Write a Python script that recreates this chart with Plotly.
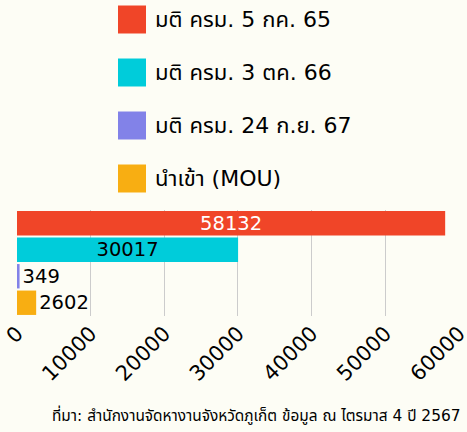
import plotly.graph_objects as go

series_names = ["มติ ครม. 5 กค. 65", "มติ ครม. 3 ตค. 66", "มติ ครม. 24 ก.ย. 67", "นำเข้า (MOU)"]
series_values = [58132, 30017, 349, 2602]
series_colors = ["#F04528", "#00CCDA", "#8282E8", "#F8AE12"]
text_colors = ["white", "black", "black", "black"]
tick_values = [0, 10000, 20000, 30000, 40000, 50000, 60000]
source_text = "ที่มา: สำนักงานจัดหางานจังหวัดภูเก็ต ข้อมูล ณ ไตรมาส 4 ปี 2567"

FONT = "DejaVu Sans, Noto Sans Thai, sans-serif"
BG = "#FDFDF5"

fig = go.Figure()
for name, val, col, tc in zip(series_names, series_values, series_colors, text_colors):
    fig.add_trace(go.Bar(
        x=[val], y=[""], name=name, orientation="h",
        marker=dict(color=col, line=dict(width=0)),
        text=[str(val)],
        textposition="inside" if val > 10000 else "outside",
        insidetextanchor="middle", constraintext="none",
        insidetextfont=dict(color=tc, size=19.5, family=FONT),
        outsidetextfont=dict(color="black", size=19.5, family=FONT),
        cliponaxis=False, showlegend=False, hoverinfo="skip",
    ))

W, H = 467, 432
L, R, T, B = 17, 8, 210, 116
ph = H - T - B

def py(pix):
    return (H - B - pix) / ph

def px(pix):
    return (pix - L) / (W - L - R)

shapes = []
annotations = []
centers = [19.5, 72.5, 125.5, 178.5]
for name, col, cy in zip(series_names, series_colors, centers):
    shapes.append(dict(type="rect", xref="paper", yref="paper",
                       x0=px(118), x1=px(146), y0=py(cy + 14), y1=py(cy - 14),
                       fillcolor=col, line=dict(width=0)))
    annotations.append(dict(xref="paper", yref="paper", x=px(153), y=py(cy),
                            xanchor="left", yanchor="middle", showarrow=False,
                            text=name, font=dict(size=22, color="black", family=FONT)))

annotations.append(dict(xref="paper", yref="paper", x=px(463), y=py(415),
                        xanchor="right", yanchor="middle", showarrow=False,
                        text=source_text, font=dict(size=15.4, color="black", family=FONT)))

fig.update_layout(
    width=W, height=H,
    margin=dict(l=L, r=R, t=T, b=B, autoexpand=False),
    paper_bgcolor=BG, plot_bgcolor=BG,
    barmode="group", bargap=0, bargroupgap=0.08,
    showlegend=False,
    shapes=shapes, annotations=annotations,
    font=dict(family=FONT, color="black"),
    xaxis=dict(range=[0, 60010], tickvals=tick_values, ticktext=[str(v) for v in tick_values],
               tickangle=-45, tickfont=dict(size=21, color="black", family=FONT),
               ticklabeloverflow="allow",
               showgrid=True, gridcolor="#CCCCCC", gridwidth=1, zeroline=False,
               showline=False, ticks="", automargin=False),
    yaxis=dict(autorange="reversed", showticklabels=False, showgrid=False,
               zeroline=False, showline=False, automargin=False),
)

fig.write_html(
    "out.html",
    config={"displayModeBar": False},
    post_script="document.body.style.margin='0';document.body.style.background='%s';" % BG,
)
